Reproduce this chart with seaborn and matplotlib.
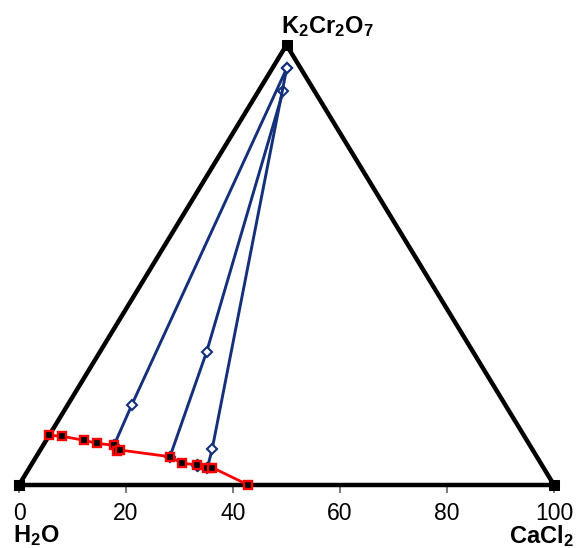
import numpy as np
import pandas as pd
import matplotlib
matplotlib.use("Agg")
import matplotlib.pyplot as plt
import seaborn as sns

# ---- data (wt%: CaCl2, K2Cr2O7; remainder H2O) ----
liquid_cacl2 = [0.0, 2.56, 7.07, 9.78, 13.25, 14.36, 14.9, 25.0, 28.0, 31.0, 33.27, 34.2, 42.86]
liquid_k2cr2o7 = [11.3, 11.07, 10.16, 9.48, 9.02, 7.8, 7.95, 6.43, 4.93, 4.61, 3.86, 3.93, 0.0]

tie_liquid_cacl2 = [13.25, 25.0, 33.27]
tie_liquid_k2cr2o7 = [9.02, 6.43, 3.86]
tie_residue_cacl2 = [11.98, 19.93, 32.02]
tie_residue_k2cr2o7 = [18.18, 30.3, 8.18]
tie_solid_cacl2 = [2.69, 4.6, 2.69]
tie_solid_k2cr2o7 = [94.7, 89.6, 94.7]

extra_cacl2 = [31.0]
extra_k2cr2o7 = [4.61]

vertex_cacl2 = [0, 100, 0, 0]
vertex_k2cr2o7 = [0, 0, 100, 0]

tick_values = [0, 20, 40, 60, 80, 100]
label_h2o = r"$\mathbf{H_2O}$"
label_cacl2 = r"$\mathbf{CaCl_2}$"
label_k2cr2o7 = r"$\mathbf{K_2Cr_2O_7}$"

BLUE = "#14307a"
RED = "#ff0000"


def to_xy(c, k):
    c = np.asarray(c, dtype=float)
    k = np.asarray(k, dtype=float)
    return c + k / 2.0, k


sns.set_style("white")
plt.rcParams["font.family"] = ["Liberation Sans", "DejaVu Sans"]
plt.rcParams["text.color"] = "black"
plt.rcParams["xtick.color"] = "black"
plt.rcParams["mathtext.fontset"] = "custom"
plt.rcParams["mathtext.rm"] = "Liberation Sans"
plt.rcParams["mathtext.bf"] = "Liberation Sans:bold"
plt.rcParams["mathtext.it"] = "Liberation Sans:italic"

fig = plt.figure(figsize=(5.79, 5.48), dpi=100)
ax = fig.add_axes([19 / 579, 63 / 548, 535 / 579, 440 / 548])
ax.set_xlim(0, 100)
ax.set_ylim(0, 100)
for s in ax.spines.values():
    s.set_visible(False)

# triangle
tx, ty = to_xy(vertex_cacl2, vertex_k2cr2o7)
sns.lineplot(x=tx, y=ty, sort=False, estimator=None, ax=ax, color="black",
             linewidth=3.2, marker="s", markersize=6.5, markeredgecolor="black",
             markerfacecolor="black", clip_on=False, zorder=3)

# tie lines
for i in range(len(tie_liquid_cacl2)):
    cs = [tie_liquid_cacl2[i], tie_residue_cacl2[i], tie_solid_cacl2[i]]
    ks = [tie_liquid_k2cr2o7[i], tie_residue_k2cr2o7[i], tie_solid_k2cr2o7[i]]
    x, y = to_xy(cs, ks)
    sns.lineplot(x=x, y=y, sort=False, estimator=None, ax=ax, color=BLUE,
                 linewidth=2.1, marker="D", markersize=5.6, markeredgecolor=BLUE,
                 markerfacecolor="white", markeredgewidth=1.5, clip_on=False, zorder=4)

ex, ey = to_xy(extra_cacl2, extra_k2cr2o7)
sns.scatterplot(x=ex, y=ey, ax=ax, marker="D", s=34, facecolor="white",
                edgecolor=BLUE, linewidth=1.5, zorder=4, clip_on=False)

# solubility curve
lx, ly = to_xy(liquid_cacl2, liquid_k2cr2o7)
sns.lineplot(x=lx, y=ly, sort=False, estimator=None, ax=ax, color=RED,
             linewidth=2.0, marker="s", markersize=6, markeredgecolor=RED,
             markerfacecolor="black", markeredgewidth=1.7, clip_on=False, zorder=5)

ax.set_xticks(tick_values)
ax.set_xticklabels([str(v) for v in tick_values])
ax.set_yticks([])
ax.tick_params(axis="x", bottom=True, direction="out", length=6, width=1.2,
               color="#666666", labelsize=16.5, labelcolor="black", pad=6)
ax.set_xlabel("")
ax.set_ylabel("")

fig.text(13 / 579, (548 - 542) / 548, label_h2o, fontsize=17, ha="left", va="baseline",
         color="black")
fig.text(574 / 579, (548 - 543) / 548, label_cacl2, fontsize=17, ha="right", va="baseline",
         color="black")
fig.text(281 / 579, (548 - 33.5) / 548, label_k2cr2o7, fontsize=17, ha="left", va="baseline",
         color="black")

fig.savefig("out.png", dpi=100)
